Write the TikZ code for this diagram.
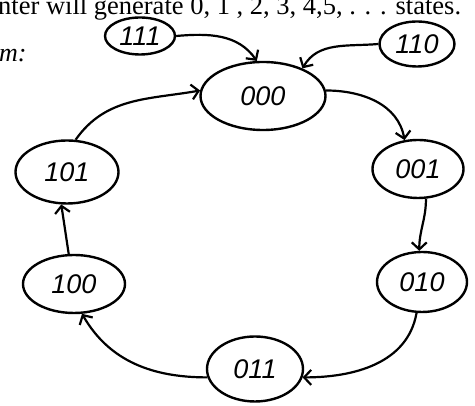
\documentclass[tikz,border=0pt]{standalone}
\usepackage{fontspec}
\setmainfont{Liberation Serif}
\newfontfamily\handfont{Liberation Sans}
\usetikzlibrary{shapes.geometric,arrows.meta}
\begin{document}
\begin{tikzpicture}[x=1pt,y=1pt,
  st/.style={draw,ellipse,line width=2.4pt,inner sep=0pt,font=\handfont\itshape\fontsize{27}{27}\selectfont},
  ar/.style={line width=2.2pt,-{Straight Barb[length=7pt,width=15pt,line width=2.2pt]}},
  txt/.style={inner sep=0pt,font=\fontsize{26.5}{26.5}\selectfont}]
\useasboundingbox (0,0) rectangle (475,406);
\node[txt,anchor=base west] (title) at (-2,391) {nter will generate 0, 1 , 2, 3, 4,5, . . . states.};
\node[txt,anchor=base west,font=\itshape\fontsize{26}{26}\selectfont] (lbl) at (-1,344) {m:};
\node[st,minimum width=70pt,minimum height=37pt] (n111) at (140,370) {111};
\node[st,minimum width=75pt,minimum height=45pt] (n110) at (417,362) {110};
\node[st,minimum width=125pt,minimum height=68pt] (n000) at (263,310) {000};
\node[st,minimum width=91pt,minimum height=58pt] (n001) at (418,237) {001};
\node[st,minimum width=90pt,minimum height=60pt] (n010) at (422,124) {010};
\node[st,minimum width=96pt,minimum height=65pt] (n011) at (255,37) {011};
\node[st,minimum width=102pt,minimum height=58pt] (n100) at (74,122) {100};
\node[st,minimum width=103pt,minimum height=63pt] (n101) at (67,234) {101};
\draw[ar] (n111.east) to[out=5,in=125] (n000.100);
\draw[ar] (n110.west) to[out=185,in=60] (n000.35);
\draw[ar] (n101.75) to[out=55,in=190] (n000.175);
\draw[ar] (n000.5) to[out=0,in=100] (n001.115);
\draw[ar] (n001.-75) to[out=-90,in=90] (n010.95);
\draw[ar] (n010.-100) to[out=-100,in=0] (n011.-10);
\draw[ar] (n011.190) to[out=180,in=-60] (n100.-75);
\draw[ar] (n100.100) -- (n101.-100);
\end{tikzpicture}
\end{document}
